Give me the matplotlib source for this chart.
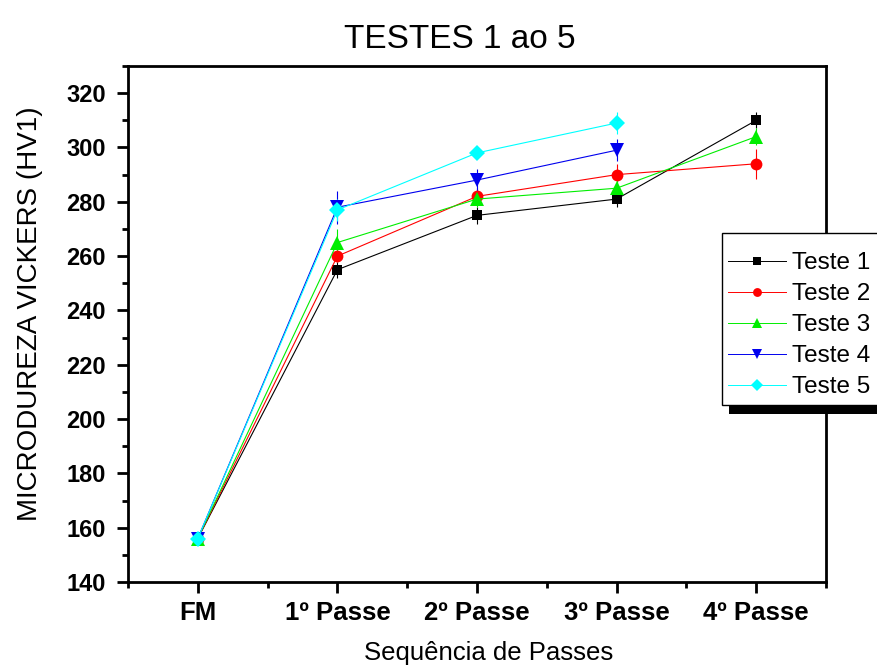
import matplotlib
matplotlib.use("Agg")
import matplotlib.pyplot as plt
from matplotlib.patches import Rectangle
from matplotlib.lines import Line2D
from matplotlib.ticker import MultipleLocator
import numpy as np

plt.rcParams['font.family'] = ['Liberation Sans', 'DejaVu Sans']

categories = ["FM", "1º Passe", "2º Passe", "3º Passe", "4º Passe"]
series_names = ["Teste 1", "Teste 2", "Teste 3", "Teste 4", "Teste 5"]

teste1 = [156, 255, 275, 281, 310]
teste2 = [156, 260, 282, 290, 294]
teste3 = [156, 265, 281, 285, 304]
teste4 = [156, 278, 288, 299]
teste5 = [156, 277, 298, 309]

err1 = [2, 3, 3, 3, 3]
err2 = [2, 2, 3, 4, 5.5]
err3 = [2, 5, 3, 3, 3]
err4 = [2, 6, 4, 4]
err5 = [2, 4, 2, 4]

values = [teste1, teste2, teste3, teste4, teste5]
errors = [err1, err2, err3, err4, err5]
colors = ["#000000", "#ff0000", "#00ee00", "#0000ee", "#00ffff"]
markers = ["s", "o", "^", "v", "D"]
msizes = [7.5, 8.5, 9.5, 9.5, 8.5]

W, H = 877, 672
fig = plt.figure(figsize=(W / 100, H / 100), dpi=100)
ax = fig.add_axes([128 / W, 1 - 582 / H, 698 / W, 516 / H])

handles = []
for vals, errs, c, m, ms, name in zip(values, errors, colors, markers, msizes, series_names):
    x = np.arange(len(vals))
    ax.errorbar(x, vals, yerr=errs, color=c, marker=m, markersize=ms,
                linewidth=0.8, elinewidth=0.8, capsize=5, capthick=0.8,
                markeredgewidth=0)
    handles.append(Line2D([], [], color=c, marker=m, markersize=ms * 0.75,
                          linewidth=0.7, markeredgewidth=0, label=name))

ax.set_xlim(-0.5, 4.5)
ax.set_ylim(140, 330)
ax.set_xticks(range(len(categories)))
ax.set_xticklabels(categories, fontsize=18.5, fontweight='bold')
ax.xaxis.set_minor_locator(MultipleLocator(0.5))
ax.set_yticks(np.arange(140, 321, 20))
ax.yaxis.set_minor_locator(MultipleLocator(10))
ax.set_ylim(140, 330)
for lab in ax.get_yticklabels():
    lab.set_fontweight('bold')
    lab.set_fontsize(17)

ax.tick_params(which='major', direction='out', length=8, width=2)
ax.tick_params(axis='y', which='major', pad=8)
ax.tick_params(axis='x', which='major', pad=6)
ax.tick_params(which='minor', direction='out', length=4, width=2)
ax.tick_params(top=False, right=False, which='both')
for sp in ax.spines.values():
    sp.set_linewidth(2)

ax.set_xlabel("Sequência de Passes", fontsize=18.5, labelpad=11, x=0.516)
ax.set_ylabel("MICRODUREZA VICKERS (HV1)", fontsize=20, labelpad=17, y=0.52)
ax.set_title("TESTES 1 ao 5", fontsize=24, pad=13, x=0.476)

# legend box with a solid drop shadow along its lower edge
box_x0, box_top, box_bottom = 722, 233, 405
frame = Rectangle((box_x0 / W, 1 - box_bottom / H), (W + 40 - box_x0) / W,
                  (box_bottom - box_top) / H, transform=fig.transFigure,
                  facecolor='white', edgecolor='black', linewidth=1, zorder=9)
shadow = Rectangle(((box_x0 + 7) / W, 1 - (box_bottom + 9) / H), (W + 40 - box_x0) / W,
                   9 / H, transform=fig.transFigure, facecolor='black',
                   edgecolor='none', zorder=8)
fig.add_artist(shadow)
fig.add_artist(frame)

leg = fig.legend(handles=handles, loc='upper left',
                 bbox_to_anchor=(728 / W, 1 - 252 / H),
                 fontsize=17.5, frameon=False, borderpad=0, labelspacing=0.37,
                 handlelength=2.4, handletextpad=0.25, borderaxespad=0)
leg.set_zorder(10)

fig.savefig("out.png", dpi=100)
